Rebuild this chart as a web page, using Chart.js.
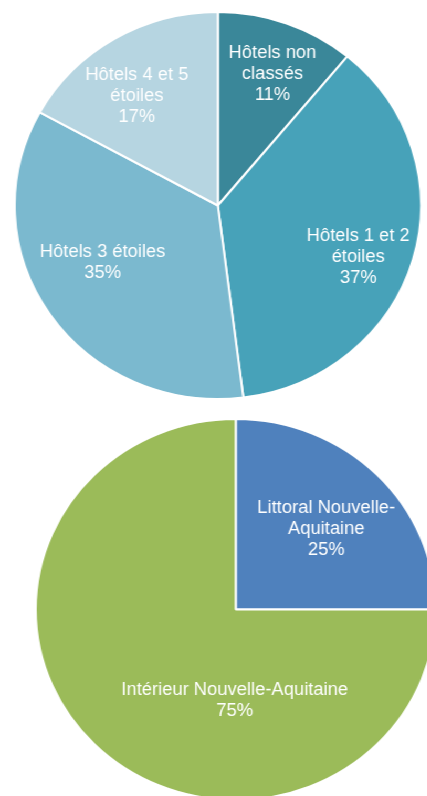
<!DOCTYPE html>
<html>
<head>
<meta charset="utf-8">
<script src="https://cdn.jsdelivr.net/npm/chart.js@4/dist/chart.umd.min.js"></script>
<style>
  html, body { margin: 0; padding: 0; background: #ffffff; overflow: hidden; width: 427px; height: 796px; }
  #stage { position: absolute; left: 0; top: 0; width: 407px; height: 796px; transform: scaleX(1.05); transform-origin: 0 0; }
  canvas { position: absolute; }
  #c1 { left: 12.6px; top: 10.5px; width: 389px; height: 389px; }
  #c2 { left: 33.3px; top: 417.5px; width: 383px; height: 383px; }
</style>
</head>
<body>
<div id="stage">
  <canvas id="c1" width="389" height="389"></canvas>
  <canvas id="c2" width="383" height="383"></canvas>
</div>
<script>
// ---- data ----
const hotelCategories = [["Hôtels non", "classés"], ["Hôtels 1 et 2", "étoiles"], ["Hôtels 3 étoiles"], ["Hôtels 4 et 5", "étoiles"]];
const hotelValues = [11, 37, 35, 17];
const zoneCategories = [["Littoral Nouvelle-", "Aquitaine"], ["Intérieur Nouvelle-Aquitaine"]];
const zoneValues = [25, 75];

const hotelColors = ["#3A8799", "#47A2B9", "#7BB9CF", "#B6D5E1"];
const zoneColors = ["#4F81BD", "#9BBB59"];

const sliceLabels = {
  id: 'sliceLabels',
  afterDatasetsDraw(chart, args, opts) {
    const ctx = chart.ctx;
    const meta = chart.getDatasetMeta(0);
    const vals = chart.data.datasets[0].data;
    const sum = vals.reduce((a, b) => a + b, 0);
    ctx.save();
    ctx.fillStyle = '#ffffff';
    ctx.font = '17.5px "Liberation Sans", Arial, sans-serif';
    ctx.textAlign = 'center';
    ctx.textBaseline = 'middle';
    meta.data.forEach((arc, i) => {
      const p = arc.getProps(['x', 'y', 'startAngle', 'endAngle', 'outerRadius'], true);
      const place = opts.place[i];
      const mid = (p.startAngle + p.endAngle) / 2 + place[1] * Math.PI / 180;
      const r = p.outerRadius * place[0];
      const cx = p.x + Math.cos(mid) * r;
      const cy = p.y + Math.sin(mid) * r;
      const lab = chart.data.labels[i];
      const lines = (Array.isArray(lab) ? lab.slice() : [lab]);
      lines.push(Math.round(vals[i] / sum * 100) + '%');
      const lh = 21;
      const y0 = cy - (lines.length - 1) * lh / 2;
      lines.forEach((t, k) => ctx.fillText(t, cx, y0 + k * lh));
    });
    ctx.restore();
  }
};

function makePie(id, labels, values, colors, place) {
  return new Chart(document.getElementById(id), {
    type: 'pie',
    data: {
      labels: labels,
      datasets: [{ data: values, backgroundColor: colors, borderColor: '#ffffff', borderWidth: 2 }]
    },
    options: {
      responsive: false,
      animation: false,
      layout: { padding: 0 },
      plugins: {
        legend: { display: false },
        tooltip: { enabled: false },
        sliceLabels: { place: place }
      }
    },
    plugins: [sliceLabels]
  });
}

makePie('c1', hotelCategories, hotelValues, hotelColors, [[0.73, 1.8], [0.74, 4.8], [0.64, 6.6], [0.69, -4.7]]);
makePie('c2', zoneCategories, zoneValues, zoneColors, [[0.62, 1.9], [0.48, -44.4]]);
</script>
</body>
</html>
